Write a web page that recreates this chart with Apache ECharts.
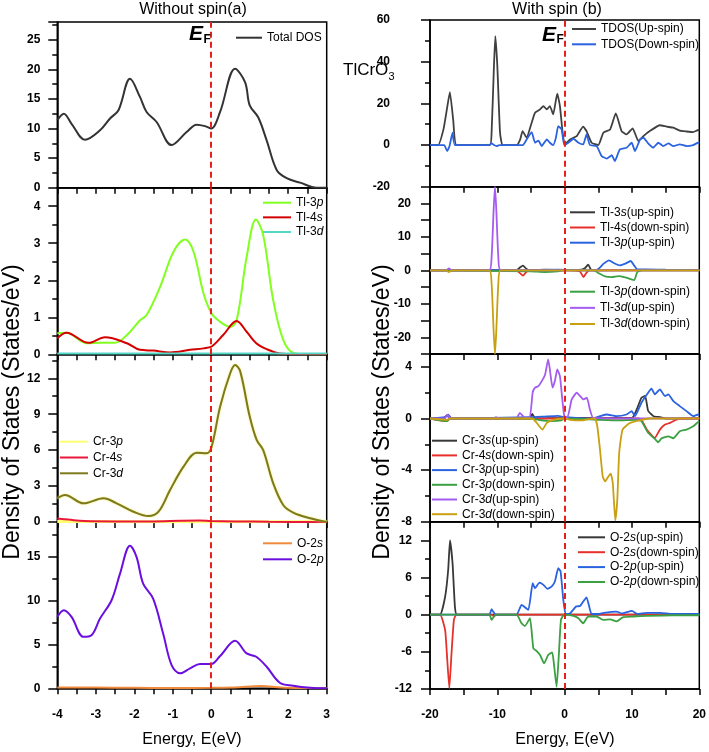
<!DOCTYPE html>
<html><head><meta charset="utf-8">
<script src="https://cdn.jsdelivr.net/npm/echarts@6/dist/echarts.min.js"></script>
<style>html,body{margin:0;padding:0;background:#fff}#c{width:709px;height:752px}</style>
</head><body><div id="c"></div>
<script>
// ---------- DATA (energy in eV, DOS in states/eV) ----------
// Left: without spin
const totalDos = [[-4,11.4],[-3.83,12.5],[-3.63,10.8],[-3.28,8.1],[-2.89,9.7],[-2.63,11.7],[-2.41,13.1],[-2.11,18.4],[-1.85,15.3],[-1.68,12.8],[-1.42,11.1],[-1.03,7.2],[-0.64,9.4],[-0.38,10.65],[-0.16,10.4],[0,10.0],[0.23,12.8],[0.62,20.1],[0.88,17.8],[1.0,13.9],[1.22,11.9],[1.44,8.0],[1.70,3.0],[1.96,1.6],[2.31,0.85],[2.74,0],[3,0]];
const tl3p = [[-4,0.57],[-3.76,0.58],[-3.24,0.30],[-2.89,0.31],[-2.5,0.31],[-2.19,0.52],[-1.85,0.92],[-1.68,1.06],[-1.33,1.82],[-0.98,2.77],[-0.68,3.10],[-0.46,2.77],[-0.20,1.64],[0.01,1.10],[0.23,0.88],[0.49,0.74],[0.66,0.92],[0.92,2.63],[1.16,3.64],[1.35,3.22],[1.61,1.46],[1.87,0.39],[2.13,0.04],[2.5,0],[3,0]];
const tl4s = [[-4,0.43],[-3.76,0.58],[-3.19,0.31],[-2.76,0.46],[-2.19,0.30],[-1.85,0.12],[-1.51,0.10],[-1.07,0.05],[-0.55,0.12],[-0.20,0.16],[0.01,0.21],[0.31,0.52],[0.66,0.90],[0.92,0.61],[1.17,0.30],[1.44,0.14],[1.78,0.02],[2.2,0],[3,0]];
const tl3d = [[-4,0.02],[-2,0.02],[0,0.02],[1.5,0.02],[3,0.02]];
const cr3p = [[-4,0.05],[-2,0.03],[0,0.03],[3,0.02]];
const cr4s = [[-4,0.3],[-3.7,0.2],[-3.3,0.08],[-2.5,0.05],[-1.5,0.05],[-0.8,0.1],[-0.3,0.12],[0,0.08],[0.6,0.05],[1.5,0.02],[3,0]];
const cr3d = [[-4,1.98],[-3.80,2.26],[-3.32,1.56],[-2.80,1.98],[-2.46,1.56],[-2.02,0.86],[-1.63,0.50],[-1.37,0.86],[-1.07,2.67],[-0.72,4.62],[-0.38,5.79],[-0.12,5.74],[0.01,6.29],[0.23,9.63],[0.49,12.4],[0.62,13.1],[0.75,12.6],[1.0,8.8],[1.18,6.85],[1.35,6.0],[1.61,3.23],[1.87,1.42],[2.13,0.78],[2.57,0.31],[3,0]];
const o2s = [[-4,0.1],[-3,0.08],[-2,0.06],[-1,0.04],[0,0.05],[0.6,0.1],[1.3,0.25],[1.8,0.1],[2.5,0.02],[3,0]];
const o2p = [[-4,8.16],[-3.83,8.92],[-3.63,8.16],[-3.32,5.88],[-3.11,6.07],[-2.89,7.97],[-2.59,10.06],[-2.37,13.1],[-2.11,16.3],[-1.94,14.99],[-1.77,11.96],[-1.51,10.25],[-1.25,6.26],[-1.03,2.65],[-0.81,1.71],[-0.55,2.28],[-0.29,2.77],[0,2.77],[0.23,3.68],[0.62,5.42],[0.92,3.99],[1.17,3.6],[1.44,2.46],[1.78,0.64],[2.13,0.30],[2.57,0.07],[3,0]];

// Right: with spin
const tdosUp = [[-20,0],[-18.8,0],[-18.0,7.5],[-17.5,17],[-17.05,25.4],[-16.55,12],[-16.05,0],[-11.1,0],[-10.85,6],[-10.5,38],[-10.3,52.3],[-10.0,38],[-9.6,6],[-9.2,0],[-7.1,0],[-6.6,2.7],[-6.25,6.7],[-5.65,3.5],[-4.9,10.7],[-4.4,15.5],[-3.65,17.1],[-3.15,18.7],[-2.65,17.1],[-2.2,18.7],[-1.7,14.7],[-1.1,24.7],[-0.7,18.7],[-0.3,5.9],[0.05,0.3],[0.8,2.7],[1.8,4.3],[2.75,8.8],[3.25,6.7],[4.0,1.1],[5.0,0],[5.75,5.9],[6.75,7.5],[7.6,15.2],[8.45,6.7],[9.2,5.1],[10.1,8],[10.95,1.9],[11.7,4.3],[12.65,6.7],[14.15,9.5],[15.15,8.8],[16.15,8.3],[17.1,6.9],[18.1,6.5],[19.1,6.2],[19.85,7.2],[20,7]];
const tdosDown = [[-20,0],[-17.9,0],[-17.45,-2.9],[-17.1,-0.5],[-16.65,5.9],[-16.3,0],[-11.2,0],[-10.85,0.8],[-10.5,0],[-10.1,-0.5],[-9.7,0],[-6.2,0],[-5.65,2.7],[-4.9,6.2],[-4.4,1.1],[-3.9,2.1],[-3.4,-0.5],[-2.65,2.7],[-2.2,1.1],[-1.7,0],[-1.3,3.5],[-0.95,9.1],[-0.45,7.5],[-0.05,0],[0.55,1.1],[1.3,3.0],[2.05,1.1],[2.75,0.3],[3.25,5.1],[3.75,0],[4.75,-0.5],[5.5,-5.3],[6.25,-6.5],[7.0,-4.9],[7.45,-7.7],[8.2,-2.1],[9.2,-1.3],[9.95,1.1],[10.45,-2.9],[11.2,2.7],[11.7,3.5],[12.4,0.8],[13.15,-1.3],[13.9,1.1],[14.65,-0.5],[15.4,0.8],[16.15,-0.5],[17.1,0.3],[18.1,-0.5],[19.1,0],[19.85,1.1],[20,1]];

const tl3sUp = [[-20,0],[-7.2,0],[-6.6,0.9],[-6.2,1.4],[-5.7,0.5],[-5.2,0],[-3,0.2],[0,0.1],[2.5,0.2],[3.0,0.6],[3.5,1.7],[3.9,0.3],[4.5,0],[20,0.1]];
const tl4sDown = [[-20,0],[-7.2,0],[-6.6,-0.9],[-6.2,-1.6],[-5.7,-0.5],[-5.2,0],[0,0],[2.2,-0.2],[2.8,-2.0],[3.2,-0.8],[3.7,0],[20,0]];
const tl3pUp = [[-20,0],[-5,0.1],[-1,0.2],[4.4,0],[5.0,0.4],[5.8,2.0],[6.6,3.0],[7.3,2.2],[8.2,1.5],[9.0,2.0],[9.8,2.8],[10.3,1.5],[10.8,0.3],[12,0.3],[15,0.2],[20,0.1]];
const tl3pDown = [[-20,0],[-5,-0.3],[-3,-0.5],[-1,-0.3],[0,0],[4.4,0],[5.0,-0.8],[6.0,-1.8],[7.0,-2.0],[8.0,-1.7],[9.0,-2.1],[10.3,-2.9],[10.8,-0.5],[11.5,0],[20,0]];
const tl3dUp = [[-20,0],[-17.6,0],[-17.2,0.6],[-16.8,0],[-11.2,0],[-10.85,4],[-10.55,18],[-10.35,25],[-10.15,18],[-9.85,4],[-9.5,0],[20,0]];
const tl3dDown = [[-20,0],[-17.6,0],[-17.2,-0.5],[-16.8,0],[-11.2,0],[-10.85,-4],[-10.55,-18],[-10.35,-25],[-10.15,-18],[-9.85,-4],[-9.5,0],[20,0]];

const cr3sUp = [[-20,0],[-18,0],[-17.5,0.25],[-17,0],[-5.2,0],[-4.8,0.35],[-4.4,0],[0,0.05],[10,0.05],[10.7,0.7],[11.4,1.6],[11.95,1.75],[12.4,0.6],[13.2,0.18],[14.2,0.1],[15,0],[20,0]];
const cr4sDown = [[-20,0],[-17.5,-0.2],[-17,0],[0,0],[11,0],[11.45,-0.13],[12.2,-0.86],[13.4,-1.5],[14.15,-0.86],[14.9,-0.47],[15.65,-0.34],[16.6,-0.08],[17.5,0],[20,0]];
const cr3pUp = [[-20,0],[-17.8,0.1],[-17.3,0.3],[-16.8,0],[-5,0.1],[-3,0.15],[-1,0.2],[0,0.1],[4,0],[5.25,0.18],[6.25,0.31],[7.7,0.18],[9.2,0.31],[9.95,0.57],[10.45,0.18],[11.4,1.22],[12.4,2.0],[12.9,2.31],[13.4,1.87],[14.15,2.26],[14.9,1.74],[15.4,1.87],[16.15,1.35],[17.1,0.96],[18.1,0.57],[19.1,0.18],[19.85,0.31],[20,0.3]];
const cr3pDown = [[-20,0],[-17.5,-0.2],[-17,0],[-5,0],[-3.5,-0.15],[-2,-0.2],[-0.5,-0.15],[0,0],[5,-0.1],[8,-0.15],[10.5,-0.1],[11.4,-0.2],[12.4,-1.11],[13.4,-1.58],[13.9,-1.84],[14.4,-1.53],[15.4,-1.38],[16.15,-1.53],[17.1,-0.99],[18.1,-0.86],[19.1,-0.6],[19.85,-0.26],[20,-0.25]];
const cr3dUp = [[-20,0],[-17.8,0],[-17.4,0.3],[-17,0],[-10.5,0],[-10.2,0.1],[-9.8,0],[-7.2,0],[-6.65,0.44],[-5.9,0.05],[-5.2,0.05],[-4.75,2.0],[-4.4,2.39],[-3.9,2.51],[-3.4,2.9],[-2.9,3.42],[-2.45,4.59],[-2.2,3.81],[-1.8,2.39],[-1.45,2.9],[-1.1,3.81],[-0.7,3.29],[-0.35,1.48],[-0.05,0.18],[0.4,0.05],[1.05,1.48],[1.8,2.0],[2.3,1.74],[2.8,1.48],[3.3,1.61],[3.75,0.7],[4.25,0.05],[20,0]];
const cr3dDown = [[-20,0],[-17.5,-0.1],[-17,0],[-4.8,0],[-4.15,-0.34],[-3.3,-0.86],[-2.65,-0.34],[-1.7,-0.1],[0,0],[0.8,-0.1],[2.5,-0.15],[3.5,-0.05],[4.5,0],[4.85,-0.6],[5.25,-2.41],[5.65,-4.49],[6.0,-4.88],[6.5,-4.49],[6.85,-4.28],[7.15,-5.0],[7.52,-7.9],[7.82,-6.3],[8.1,-2.67],[8.6,-0.86],[9.7,-0.34],[11.2,-0.13],[12.5,0],[20,0]];

const o2sUp = [[-20,0],[-18.5,0],[-17.75,2.9],[-17.3,7.2],[-17.03,12],[-16.65,8.3],[-16.3,1.3],[-16.0,0],[20,0]];
const o2sDown = [[-20,0],[-18.5,0],[-17.75,-2.5],[-17.5,-6.2],[-17.13,-11.9],[-16.8,-6.2],[-16.45,-0.86],[-16.1,0],[-10.8,0],[-10.5,-0.3],[-10.2,0],[20,0]];
const o2pUp = [[-20,0],[-11.2,0],[-10.85,0.87],[-10.5,0.3],[-10.2,0],[-7.15,0],[-6.4,1.57],[-5.4,0.76],[-4.75,5.08],[-4.4,4.27],[-3.75,5.18],[-3.15,4.81],[-2.55,4.16],[-1.95,4.53],[-1.45,5.34],[-0.95,7.5],[-0.6,6.96],[-0.2,2.38],[0.15,0.1],[0.8,0.2],[1.7,1.3],[2.3,1.4],[2.75,2.1],[3.25,2.8],[3.65,1.3],[4.0,0.1],[5.0,0.1],[5.8,0.3],[7.7,0.5],[8.5,0.2],[10.0,0.6],[10.8,0.1],[12.2,0.3],[14.2,0.3],[16,0.1],[20,0.1]];
const o2pDown = [[-20,0],[-11.2,0],[-10.85,-0.86],[-10.5,-0.3],[-10.2,0],[-7.15,0],[-6.4,-1.4],[-5.9,-1.83],[-5.15,-0.58],[-4.65,-5.44],[-4.15,-5.87],[-3.65,-6.52],[-3.05,-7.87],[-2.45,-6.52],[-1.85,-6.09],[-1.6,-7.87],[-1.2,-11.65],[-0.85,-6.25],[-0.55,-0.86],[-0.1,0],[1.3,-0.2],[2.05,-0.58],[2.75,-1.4],[3.5,-0.3],[4.75,-0.3],[5.75,-0.86],[6.75,-0.75],[7.7,-1.1],[8.7,-0.4],[10.2,-0.3],[12.2,-0.2],[16,-0.1],[20,-0.1]];

// axis ranges / ticks
const leftX = {min:-4, max:3, interval:1};
const rightX = {min:-20, max:20, interval:10};
const yRanges = [
  {min:0, max:28, interval:5},
  {min:0, max:4.5, interval:1},
  {min:0, max:14, interval:3},
  {min:0, max:19, interval:5},
  {min:-20, max:60, interval:20},
  {min:-25, max:25, interval:5},
  {min:-8, max:5, interval:4},
  {min:-12, max:15, interval:6}
];

// ---------- CHART ----------
const FF = "'Liberation Sans', Arial, sans-serif";
const chart = echarts.init(document.getElementById('c'), null, {renderer:'canvas'});

const gridBoxes = [
  [57.3, 22, 269.4, 165.7],[57.3, 187.7, 269.4, 166.6],[57.3, 354.3, 269.4, 167.7],[57.3, 522, 269.4, 166.3],
  [430, 20, 269.3, 166.7],[430, 186.7, 269.3, 167.3],[430, 354, 269.3, 167.7],[430, 521.7, 269.3, 167.3]
];
const grids = gridBoxes.map(b => ({left:b[0], top:b[1], width:b[2], height:b[3], show:true, borderColor:'#000', borderWidth:1.5, backgroundColor:'transparent'}));

const blk = {color:'#000', width:1.5};
const xAxes = gridBoxes.map((b,i) => {
  const r = i < 4 ? leftX : rightX;
  const bottom = (i === 3 || i === 7);
  return {gridIndex:i, type:'value', min:r.min, max:r.max, interval:r.interval,
    axisLine:{show:true, onZero:false, lineStyle:blk},
    axisTick:{show:true, inside:false, length:6, lineStyle:blk},
    minorTick:{show:true, splitNumber:2, length:6, lineStyle:blk},
    splitLine:{show:false}, minorSplitLine:{show:false},
    axisLabel:{show:bottom, margin:20, fontFamily:FF, fontWeight:'bold', fontSize:12, color:'#000'}};
});
const yMargins = [17,17,17,17,40,19,18,18];
const yAxes = yRanges.map((r,i) => {
  const ax = {gridIndex:i, type:'value', min:r.min, max:r.max, interval:r.interval,
    axisLine:{show:true, onZero:false, lineStyle:blk},
    axisTick:{show:true, inside:false, length:9, lineStyle:blk},
    minorTick:{show:true, splitNumber:2, length:5, lineStyle:blk},
    splitLine:{show:false}, minorSplitLine:{show:false},
    axisLabel:{margin:yMargins[i], fontFamily:FF, fontWeight:'bold', fontSize:12, color:'#000', showMaxLabel:i===4}};
  if (i === 5) {
    ax.minorTick = {show:false};
    ax.axisLabel.formatter = v => (Math.abs(v) <= 20 && Math.round(v) % 10 === 0) ? String(v) : '';
    ax.axisLabel.showMaxLabel = false;
    ax.axisLabel.showMinLabel = false;
  }
  return ax;
});

function S(name, data, gi, color, width, smooth, extra) {
  return Object.assign({type:'line', name, data, xAxisIndex:gi, yAxisIndex:gi, symbol:'none', showSymbol:false,
    smooth, lineStyle:{color, width}, itemStyle:{color}, emphasis:{disabled:true}}, extra || {});
}
const C = {
  gray:'#383838', red:'#e6302a', blue:'#2a62e0', green:'#3aa042', purple:'#a45cf0', gold:'#c9a012'
};
const series = [
  S('Total DOS', totalDos, 0, '#333333', 2, 0.35),
  S('Tl-3p', tl3p, 1, '#80ff20', 2, 0.35),
  S('Tl-4s', tl4s, 1, '#d40000', 2, 0.35),
  S('Tl-3d', tl3d, 1, '#55d8c8', 2, 0.35),
  S('Cr-3p', cr3p, 2, '#ffff70', 3, 0.35),
  S('Cr-4s', cr4s, 2, '#e8183c', 2, 0.35),
  S('Cr-3d', cr3d, 2, '#7d7a1e', 2, 0.35, {lineStyle:{color:'#7d7a1e', width:2, shadowColor:'rgba(240,230,80,0.9)', shadowBlur:2}}),
  S('O-2s', o2s, 3, '#f08a3c', 2, 0.35),
  S('O-2p', o2p, 3, '#6a0fe0', 2, 0.35),
  S('TDOS(Up-spin)', tdosUp, 4, '#404040', 1.8, 0.15),
  S('TDOS(Down-spin)', tdosDown, 4, C.blue, 1.8, 0.15),
  S('Tl-3s(up-spin)', tl3sUp, 5, C.gray, 1.8, 0.2),
  S('Tl-4s(down-spin)', tl4sDown, 5, C.red, 1.8, 0.2),
  S('Tl-3p(up-spin)', tl3pUp, 5, C.blue, 1.8, 0.2),
  S('Tl-3p(down-spin)', tl3pDown, 5, C.green, 1.8, 0.2),
  S('Tl-3d(up-spin)', tl3dUp, 5, C.purple, 1.8, 0.2),
  S('Tl-3d(down-spin)', tl3dDown, 5, C.gold, 1.8, 0.2),
  S('Cr-3s(up-spin)', cr3sUp, 6, C.gray, 1.8, 0.15),
  S('Cr-4s(down-spin)', cr4sDown, 6, C.red, 1.8, 0.15),
  S('Cr-3p(up-spin)', cr3pUp, 6, C.blue, 1.8, 0.15),
  S('Cr-3p(down-spin)', cr3pDown, 6, C.green, 1.8, 0.15),
  S('Cr-3d(up-spin)', cr3dUp, 6, C.purple, 1.8, 0.15),
  S('Cr-3d(down-spin)', cr3dDown, 6, C.gold, 1.8, 0.15),
  S('O-2s(up-spin)', o2sUp, 7, C.gray, 1.8, 0.15),
  S('O-2s(down-spin)', o2sDown, 7, C.red, 1.8, 0.15),
  S('O-2p(up-spin)', o2pUp, 7, C.blue, 1.8, 0.15),
  S('O-2p(down-spin)', o2pDown, 7, C.green, 1.8, 0.15)
];
// Fermi level dashed line in every panel
const seen = {};
series.forEach(s => {
  if (seen[s.xAxisIndex]) return;
  seen[s.xAxisIndex] = true;
  s.markLine = {silent:true, symbol:'none', animation:false, label:{show:false},
    lineStyle:{color:'#e8201c', type:[6,4], width:2}, data:[{xAxis:0}], z:10};
});

const fmtName = n => n.replace(/(\d)([spd])/, '$1{i|$2}');
function LG(names, left, top, itemWidth, gap) {
  return {orient:'vertical', left, top, padding:0, itemGap:gap, itemWidth, itemHeight:2, icon:'rect',
    data:names, formatter:fmtName, selectedMode:false,
    textStyle:{fontFamily:FF, fontSize:12, color:'#000', lineHeight:14,
      rich:{i:{fontFamily:FF, fontSize:12, fontStyle:'italic', color:'#000', lineHeight:14}}}};
}
const legends = [
  LG(['Total DOS'], 236, 30.7, 26, 0),
  LG(['Tl-3p','Tl-4s','Tl-3d'], 263, 195.7, 28, 0.65),
  LG(['Cr-3p','Cr-4s','Cr-3d'], 60, 434.7, 28, 1.8),
  LG(['O-2s','O-2p'], 263, 536.3, 29, 2),
  LG(['TDOS(Up-spin)','TDOS(Down-spin)'], 572, 22, 24, 1.3),
  LG(['Tl-3s(up-spin)','Tl-4s(down-spin)','Tl-3p(up-spin)'], 570, 205.3, 25, 1.2),
  LG(['Tl-3p(down-spin)','Tl-3d(up-spin)','Tl-3d(down-spin)'], 570, 284.7, 25, 2.15),
  LG(['Cr-3s(up-spin)','Cr-4s(down-spin)','Cr-3p(up-spin)','Cr-3p(down-spin)','Cr-3d(up-spin)','Cr-3d(down-spin)'], 432, 433.7, 25, 0.7),
  LG(['O-2s(up-spin)','O-2s(down-spin)','O-2p(up-spin)','O-2p(down-spin)'], 578, 530.3, 27, 0.9)
];

function T(text, x, y, font, align, rot) {
  return {type:'text', x, y, rotation:rot||0, silent:true, z:100,
    style:{text, font, fill:'#000', align:align||'center', verticalAlign:'middle'}};
}
const graphics = [
  T('Without spin(a)', 193, 10, `16px ${FF}`),
  T('With spin (b)', 557, 10, `16px ${FF}`),
  T('E', 189, 34.5, `italic bold 21px ${FF}`, 'left'),
  T('F', 203.5, 39.5, `bold 12px ${FF}`, 'left'),
  T('E', 542, 35, `italic bold 21px ${FF}`, 'left'),
  T('F', 556.5, 40, `bold 12px ${FF}`, 'left'),
  T('TlCrO', 343, 70, `17px ${FF}`, 'left'),
  T('3', 388.5, 77, `11px ${FF}`, 'left'),
  T('Density of States (States/eV)', 13, 412, `23px ${FF}`, 'center', Math.PI/2),
  T('Density of States (States/eV)', 383, 412, `23px ${FF}`, 'center', Math.PI/2),
  T('Energy, E(eV)', 192, 740, `16px ${FF}`),
  T('Energy, E(eV)', 565, 740, `16px ${FF}`)
];

chart.setOption({
  animation:false,
  backgroundColor:'#fff',
  grid:grids, xAxis:xAxes, yAxis:yAxes, series, legend:legends,
  graphic:{elements:graphics}
});
</script></body></html>
